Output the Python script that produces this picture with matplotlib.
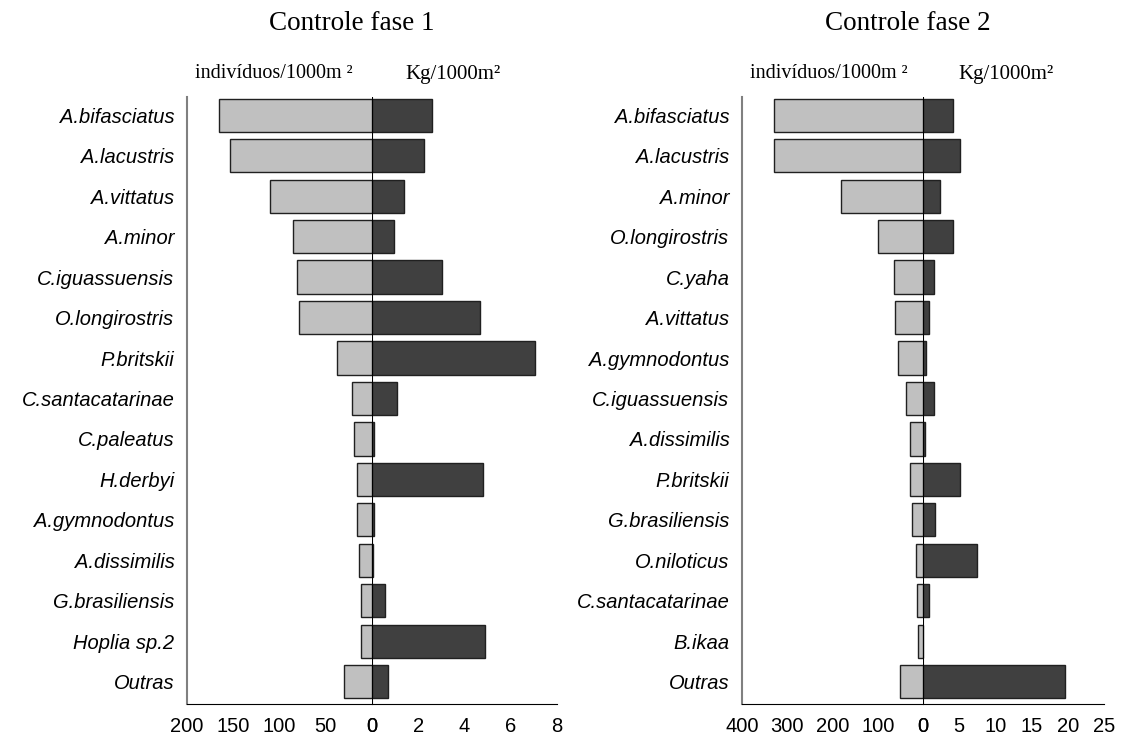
import numpy as np
import matplotlib.pyplot as plt

# Controle fase 1
especies_1 = ['A.bifasciatus', 'A.lacustris', 'A.vittatus', 'A.minor', 'C.iguassuensis',
              'O.longirostris', 'P.britskii', 'C.santacatarinae', 'C.paleatus', 'H.derbyi',
              'A.gymnodontus', 'A.dissimilis', 'G.brasiliensis', 'Hoplia sp.2', 'Outras']
ind_1 = [165, 153, 110, 85, 81, 79, 38, 22, 20, 16, 16, 14, 12, 12, 30]
kg_1 = [2.6, 2.27, 1.4, 0.94, 3.02, 4.68, 7.03, 1.08, 0.07, 4.79, 0.1, 0.03, 0.58, 4.89, 0.68]

# Controle fase 2
especies_2 = ['A.bifasciatus', 'A.lacustris', 'A.minor', 'O.longirostris', 'C.yaha',
              'A.vittatus', 'A.gymnodontus', 'C.iguassuensis', 'A.dissimilis', 'P.britskii',
              'G.brasiliensis', 'O.niloticus', 'C.santacatarinae', 'B.ikaa', 'Outras']
ind_2 = [330, 330, 181, 99, 64, 62, 55, 37, 28, 28, 24, 16, 14, 11, 51]
kg_2 = [4.1, 5.1, 2.4, 4.2, 1.5, 0.8, 0.37, 1.5, 0.28, 5.1, 1.7, 7.4, 0.8, 0.0, 19.6]

ticks_ind_1 = [200, 150, 100, 50, 0]
ticks_kg_1 = [0, 2, 4, 6, 8]
ticks_ind_2 = [400, 300, 200, 100, 0]
ticks_kg_2 = [0, 5, 10, 15, 20, 25]

W, H = 1121, 739
fig = plt.figure(figsize=(W / 100, H / 100), dpi=100)

sans = 'Liberation Sans'
serif = 'Liberation Serif'
light = '#c0c0c0'
dark = '#404040'
edge = '#202020'


def painel(x0, x_mid, x1, especies, ind, kg, t_ind, t_kg, titulo, tx, sub_ind_x, sub_kg_x):
    bottom = 1 - 704 / H
    height = (704 - 97) / H
    ax_i = fig.add_axes([x0 / W, bottom, (x_mid - x0) / W, height])
    ax_k = fig.add_axes([x_mid / W, bottom, (x1 - x_mid) / W, height])
    y = np.arange(len(especies))

    ax_i.barh(y, ind, height=0.82, color=light, edgecolor=edge, linewidth=1)
    ax_k.barh(y, kg, height=0.82, color=dark, edgecolor=edge, linewidth=1)

    ax_i.set_xlim(t_ind[0], 0)
    ax_k.set_xlim(0, t_kg[-1])
    for ax in (ax_i, ax_k):
        ax.set_ylim(len(especies) - 1 + 0.55, -0.45)
        ax.spines['top'].set_visible(False)
        ax.spines['right'].set_visible(False)
        ax.spines['bottom'].set_color('black')
        ax.tick_params(axis='x', length=0, pad=9)
    ax_i.set_xticks(t_ind)
    ax_i.set_xticklabels([str(t) for t in t_ind], family=sans, fontsize=14.5)
    ax_k.set_xticks(t_kg)
    ax_k.set_xticklabels([str(t) for t in t_kg], family=sans, fontsize=14.5)

    ax_i.spines['left'].set_color('#808080')
    ax_i.spines['left'].set_linewidth(1.5)
    ax_i.set_yticks(y)
    ax_i.set_yticklabels(especies, family=sans, style='italic', fontsize=14.5)
    ax_i.tick_params(axis='y', length=0, pad=9)

    ax_k.spines['left'].set_visible(False)
    ax_k.set_yticks([])
    ax_k.axvline(0, color='black', linewidth=1.5, zorder=5)

    fig.text(tx / W, 1 - 23 / H, titulo, family=serif, fontsize=19.5,
             ha='center', va='center')
    fig.text(sub_ind_x / W, 1 - 74 / H, 'indivíduos/1000m ²', family=serif,
             fontsize=14.5, ha='left', va='center')
    fig.text(sub_kg_x / W, 1 - 74 / H, 'Kg/1000m²', family=serif,
             fontsize=15, ha='left', va='center')


painel(187, 372, 557, especies_1, ind_1, kg_1, ticks_ind_1, ticks_kg_1,
       'Controle fase 1', 352, 195, 405)
painel(742, 923, 1104, especies_2, ind_2, kg_2, ticks_ind_2, ticks_kg_2,
       'Controle fase 2', 908, 750, 958)

fig.savefig('out.png', dpi=100)
